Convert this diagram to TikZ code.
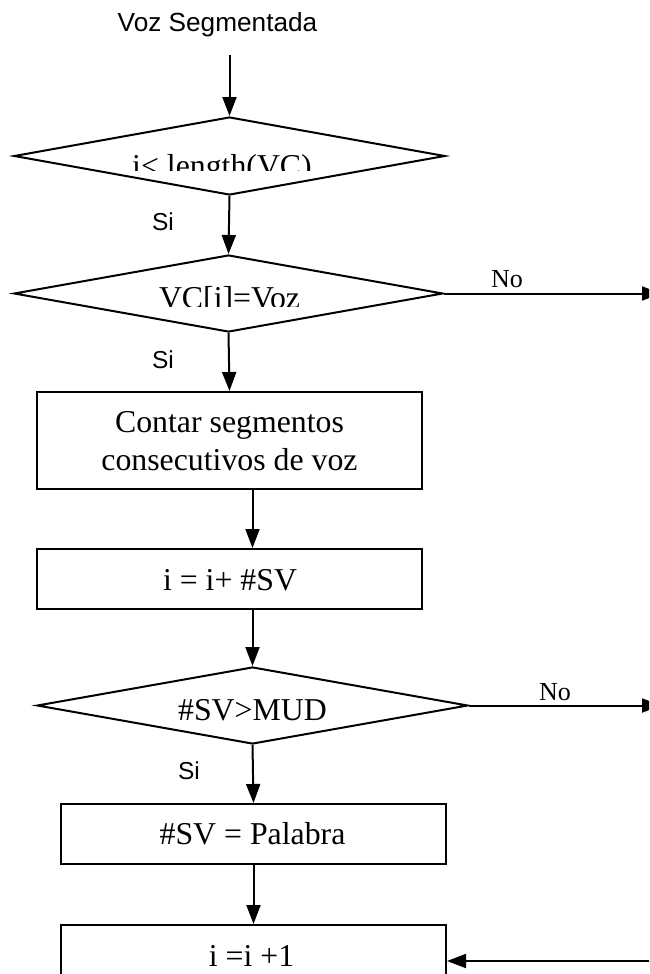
\documentclass[tikz,border=0pt]{standalone}
\usepackage{fontspec}
\setmainfont{Liberation Serif}
\newfontfamily\arial{Liberation Sans}
\usetikzlibrary{shapes.geometric,arrows.meta}

\begin{document}
\begin{tikzpicture}[x=1pt,y=-1pt,
  line width=2pt,
  arr/.style={-{Triangle[length=19pt,width=14pt]}},
  decision/.style={diamond,draw,inner sep=0pt},
  stepbox/.style={rectangle,draw,inner sep=0pt},
  body/.style={font=\fontsize{31.8}{38}\selectfont,anchor=base,inner sep=0pt},
  lbl/.style={font=\arial\fontsize{24.5}{28}\selectfont,anchor=base,inner sep=0pt},
  nolbl/.style={font=\fontsize{26}{30}\selectfont,anchor=base,inner sep=0pt}]

\useasboundingbox (0,0) rectangle (649,974);
\clip (0,0) rectangle (649,974);

% title
\node[lbl,font=\arial\fontsize{26.2}{30}\selectfont] (src) at (217.5,32) {Voz Segmentada};
\coordinate (start) at (229.5,55);

% decisions
\node[decision,minimum width=431pt,minimum height=78pt] (d1) at (229.5,156) {};
\node[decision,minimum width=429pt,minimum height=77pt] (d2) at (228.5,293.5) {};
\node[decision,minimum width=431pt,minimum height=77pt] (d3) at (252.5,705.5) {};

% process boxes
\node[stepbox,minimum width=385pt,minimum height=97pt] (r1) at (229.5,440.5) {};
\node[stepbox,minimum width=385pt,minimum height=60pt] (r2) at (229.5,579) {};
\node[stepbox,minimum width=385pt,minimum height=60pt] (r3) at (253.5,834) {};
\node[stepbox,minimum width=385pt,minimum height=60pt] (r4) at (253.5,955) {};

% texts of the decisions (the first two are cut off at the bottom)
\begin{scope}
  \clip (0,0) rectangle (649,170);
  \node[body] (t1) at (222,176.5) {i< length(VC)};
\end{scope}
\begin{scope}
  \clip (0,0) rectangle (649,306);
  \node[body] (t2) at (229.5,308) {VC[i]=Voz};
\end{scope}
\node[body] (t3) at (252.5,720) {\#SV>MUD};

% texts of the boxes
\node[body] (t4a) at (229.5,432) {Contar segmentos};
\node[body] (t4b) at (229.5,470) {consecutivos de voz};
\node[body] (t5) at (230,590) {i = i+ \#SV};
\node[body] (t6) at (252.5,844) {\#SV = Palabra};
\node[body] (t7) at (251.5,966) {i =i +1};

% branch labels
\node[lbl] (s1) at (163,230) {Si};
\node[lbl] (s2) at (163,368) {Si};
\node[lbl] (s3) at (189,779) {Si};
\node[nolbl] (n1) at (507,287) {No};
\node[nolbl] (n2) at (555,700) {No};

% loose ends at the right border
\coordinate (out1) at (661,293.5);
\coordinate (out2) at (661,705.5);
\coordinate (in4) at (662,961);

% connectors
\draw[arr] (start) -- (d1.north);
\draw[arr] (d1.south) -- (d2.north);
\draw[arr] (d2.south) -- (r1.north);
\draw[arr] (d3.north |- r1.south) -- (d3.north |- r2.north);
\draw[arr] (d3.north |- r2.south) -- (d3.north);
\draw[arr] (d3.south) -- (r3.north);
\draw[arr] (r3.south) -- (r4.north);
\draw[arr] (d2.east) -- (out1);
\draw[arr] (d3.east) -- (out2);
\draw[arr] (in4) -- (r4.east |- in4);
\end{tikzpicture}
\end{document}
